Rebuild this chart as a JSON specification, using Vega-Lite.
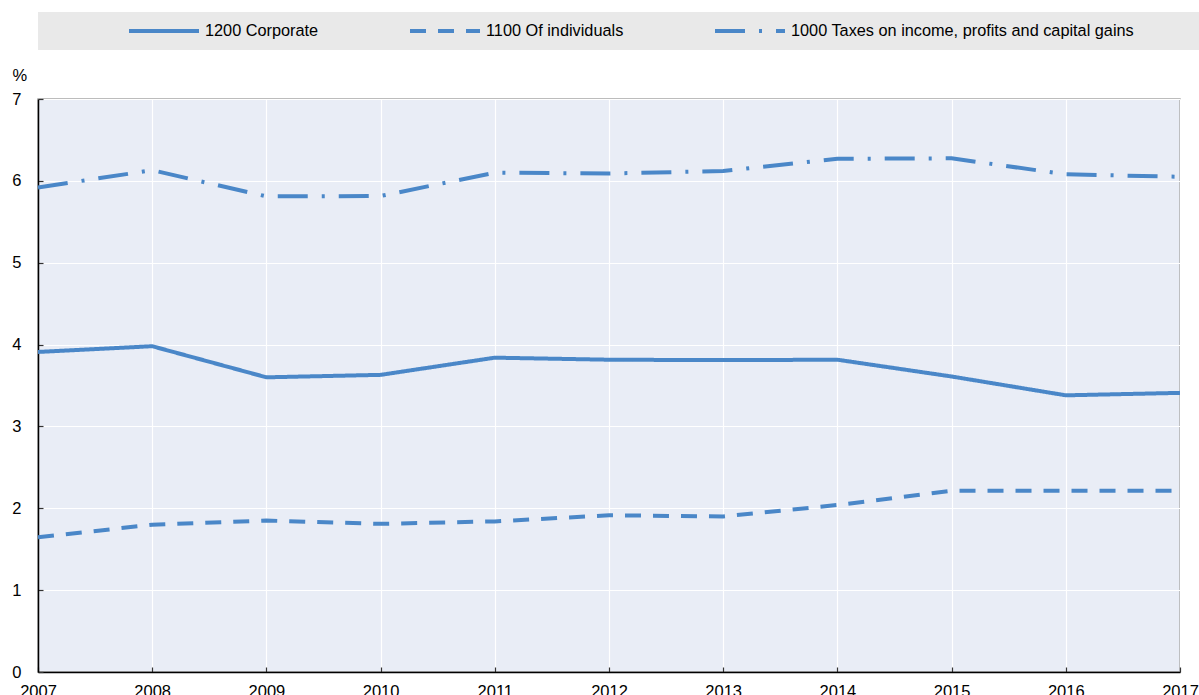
{
  "$schema": "https://vega.github.io/schema/vega-lite/v6.json",
  "width": 1142,
  "height": 573,
  "autosize": {"type": "none"},
  "padding": {"left": 38, "top": 99, "right": 19, "bottom": 23},
  "background": "white",
  "config": {
    "font": "Liberation Sans, Arial",
    "view": {"fill": "#e9edf6", "stroke": "#a6a6a6", "strokeWidth": 1.5},
    "axis": {
      "labelFont": "Liberation Sans, Arial",
      "labelFontSize": 16.5,
      "labelColor": "black",
      "gridColor": "white",
      "gridWidth": 1.2,
      "domainColor": "black",
      "domainWidth": 1.5,
      "tickColor": "#333333",
      "tickWidth": 1.2
    }
  },
  "data": {
    "values": [
      {"year": 2007, "series": "1200 Corporate", "value": 3.91},
      {"year": 2008, "series": "1200 Corporate", "value": 3.98},
      {"year": 2009, "series": "1200 Corporate", "value": 3.60},
      {"year": 2010, "series": "1200 Corporate", "value": 3.63},
      {"year": 2011, "series": "1200 Corporate", "value": 3.84},
      {"year": 2012, "series": "1200 Corporate", "value": 3.815},
      {"year": 2013, "series": "1200 Corporate", "value": 3.81},
      {"year": 2014, "series": "1200 Corporate", "value": 3.815},
      {"year": 2015, "series": "1200 Corporate", "value": 3.61},
      {"year": 2016, "series": "1200 Corporate", "value": 3.38},
      {"year": 2017, "series": "1200 Corporate", "value": 3.41},
      {"year": 2007, "series": "1100 Of individuals", "value": 1.645},
      {"year": 2008, "series": "1100 Of individuals", "value": 1.80},
      {"year": 2009, "series": "1100 Of individuals", "value": 1.85},
      {"year": 2010, "series": "1100 Of individuals", "value": 1.81},
      {"year": 2011, "series": "1100 Of individuals", "value": 1.84},
      {"year": 2012, "series": "1100 Of individuals", "value": 1.915},
      {"year": 2013, "series": "1100 Of individuals", "value": 1.90},
      {"year": 2014, "series": "1100 Of individuals", "value": 2.04},
      {"year": 2015, "series": "1100 Of individuals", "value": 2.215},
      {"year": 2016, "series": "1100 Of individuals", "value": 2.215},
      {"year": 2017, "series": "1100 Of individuals", "value": 2.215},
      {"year": 2007, "series": "1000 Taxes on income, profits and capital gains", "value": 5.92},
      {"year": 2008, "series": "1000 Taxes on income, profits and capital gains", "value": 6.13},
      {"year": 2009, "series": "1000 Taxes on income, profits and capital gains", "value": 5.81},
      {"year": 2010, "series": "1000 Taxes on income, profits and capital gains", "value": 5.815},
      {"year": 2011, "series": "1000 Taxes on income, profits and capital gains", "value": 6.10},
      {"year": 2012, "series": "1000 Taxes on income, profits and capital gains", "value": 6.09},
      {"year": 2013, "series": "1000 Taxes on income, profits and capital gains", "value": 6.12},
      {"year": 2014, "series": "1000 Taxes on income, profits and capital gains", "value": 6.27},
      {"year": 2015, "series": "1000 Taxes on income, profits and capital gains", "value": 6.275},
      {"year": 2016, "series": "1000 Taxes on income, profits and capital gains", "value": 6.08},
      {"year": 2017, "series": "1000 Taxes on income, profits and capital gains", "value": 6.05}
    ]
  },
  "mark": {"type": "line", "strokeWidth": 4, "color": "#4a87c8"},
  "encoding": {
    "x": {
      "field": "year",
      "type": "quantitative",
      "scale": {"domain": [2007, 2017], "nice": false, "zero": false},
      "axis": {
        "values": [2007, 2008, 2009, 2010, 2011, 2012, 2013, 2014, 2015, 2016, 2017],
        "format": "d",
        "title": null,
        "tickSize": -5,
        "labelPadding": 16,
        "labelFlush": false,
        "labelOverlap": false,
        "grid": true
      }
    },
    "y": {
      "field": "value",
      "type": "quantitative",
      "scale": {"domain": [0, 7], "nice": false},
      "axis": {
        "values": [0, 1, 2, 3, 4, 5, 6, 7],
        "title": "%",
        "titleAngle": 0,
        "titleX": -26,
        "titleY": -24,
        "titleAlign": "left",
        "titleBaseline": "middle",
        "titleFontSize": 16.5,
        "titleFontWeight": "normal",
        "titleFont": "Liberation Sans, Arial",
        "titleColor": "black",
        "tickSize": -5,
        "labelPadding": 22,
        "grid": true
      }
    },
    "strokeDash": {
      "field": "series",
      "type": "nominal",
      "scale": {
        "domain": ["1200 Corporate", "1100 Of individuals", "1000 Taxes on income, profits and capital gains"],
        "range": [[1, 0], [16, 12], [30, 14, 3, 14]]
      },
      "legend": {
        "orient": "none",
        "legendX": 0,
        "legendY": -87,
        "direction": "horizontal",
        "title": " ",
        "titleOrient": "right",
        "titleFontSize": 1,
        "titlePadding": 58,
        "fillColor": "#e9e9e9",
        "padding": 10,
        "clipHeight": 18,
        "symbolType": "stroke",
        "symbolSize": 4900,
        "symbolOffset": 79,
        "symbolStrokeWidth": 4,
        "symbolStrokeColor": "#4a87c8",
        "labelFont": "Liberation Sans, Arial",
        "labelFontSize": 16.3,
        "labelColor": "black",
        "labelOffset": 4,
        "labelLimit": 800,
        "columnPadding": 10
      }
    }
  }
}
